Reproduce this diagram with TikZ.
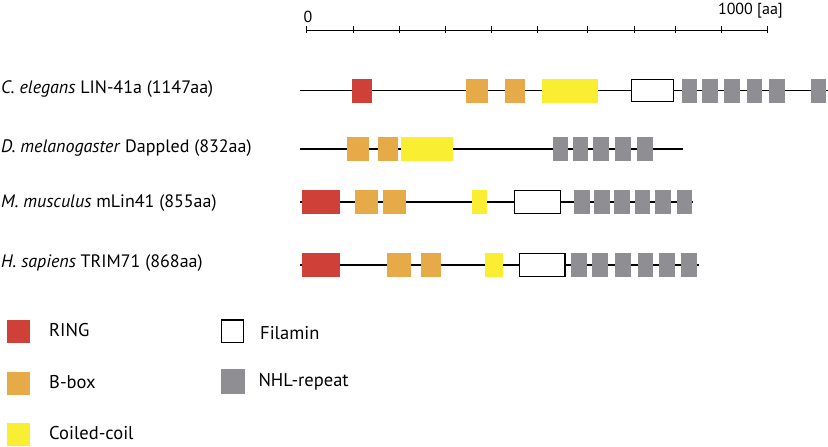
\documentclass[tikz,border=0pt]{standalone}
\usepackage{fontspec}
\setmainfont{PT Sans}
\definecolor{ringc}{RGB}{206,64,56}
\definecolor{bboxc}{RGB}{230,170,72}
\definecolor{ccoilc}{RGB}{250,238,50}
\definecolor{nhlc}{RGB}{143,142,147}
\begin{document}
\begin{tikzpicture}[x=1pt,y=-1pt,
  dom/.style={rectangle,inner sep=0pt,outer sep=0pt,minimum height=24pt,anchor=west},
  ring/.style={dom,fill=ringc},
  bbox/.style={dom,fill=bboxc},
  ccoil/.style={dom,fill=ccoilc},
  fil/.style={dom,draw=black,line width=1.4pt,fill=white,minimum height=22.5pt},
  nhl/.style={dom,fill=nhlc,minimum width=15.5pt},
  backbone/.style={line width=1.3pt,black},
  lab/.style={anchor=west,inner sep=0pt,font=\fontsize{18}{20}\selectfont},
  leg/.style={anchor=west,inner sep=0pt,font=\fontsize{18.5}{21}\selectfont},
  legsq/.style={rectangle,inner sep=0pt,outer sep=0pt,minimum width=23pt,minimum height=23pt},
  scalelab/.style={inner sep=0pt,font=\fontsize{16}{18}\selectfont},
  tick/.style={line width=1pt}]
\useasboundingbox (0,0) rectangle (828,447);
% scale bar
\coordinate (s0) at (306.7,30);
\coordinate (s1) at (767.3,30);
\draw[tick] (s0) -- (s1);
\foreach \x in {306.7,353.3,399.3,445,491,537,587.7,634,675.7,721.7,767.3}
  \draw[tick] (\x,26) -- (\x,33);
\node[scalelab] (zero) at (308,16.5) {0};
\node[scalelab,anchor=east] (thou) at (783,11) {1000 [aa]};
% labels
\node[lab] (l1) at (1,89.5) {\textit{C. elegans} LIN-41a (1147aa)};
\node[lab] (l2) at (1,148.5) {\textit{D. melanogaster} Dappled (832aa)};
\node[lab] (l3) at (1,203) {\textit{M. musculus} mLin41 (855aa)};
\node[lab] (l4) at (1,263.5) {\textit{H. sapiens} TRIM71 (868aa)};
% row 1
\coordinate (a0) at (299.6,90.5);
\coordinate (a1) at (828,90.5);
\draw[backbone] (a0) -- (a1);
\node[ring,minimum width=20pt] (a-r) at (352.4,90.5) {};
\node[bbox,minimum width=22.3pt] (a-b1) at (466,90.5) {};
\node[bbox,minimum width=20.6pt] (a-b2) at (504.8,90.5) {};
\node[ccoil,minimum width=56.6pt] (a-c) at (541.5,90.5) {};
\node[fil,minimum width=42pt] (a-f) at (631.4,90.5) {};
\foreach \x [count=\i] in {681.5,702,724.4,746.7,769,810.5}
  \node[nhl] (a-n\i) at (\x,90.5) {};
% row 2
\coordinate (b0) at (300,149);
\coordinate (b1) at (682.7,149);
\draw[backbone] (b0) -- (b1);
\node[bbox,minimum width=22pt] (b-b1) at (346.7,149) {};
\node[bbox,minimum width=20pt] (b-b2) at (378.3,149) {};
\node[ccoil,minimum width=52pt] (b-c) at (400.7,149) {};
\foreach \x [count=\i] in {552.7,572.7,593.3,615,637.3}
  \node[nhl] (b-n\i) at (\x,149) {};
% row 3
\coordinate (c0) at (300,202);
\coordinate (c1) at (693.3,202);
\draw[backbone] (c0) -- (c1);
\node[ring,minimum width=38.3pt] (c-r) at (301.7,202) {};
\node[bbox,minimum width=23pt] (c-b1) at (355.3,202) {};
\node[bbox,minimum width=23.6pt] (c-b2) at (382.7,202) {};
\node[ccoil,minimum width=15.6pt] (c-c) at (471.7,202) {};
\node[fil,minimum width=45.5pt] (c-f) at (514.7,202) {};
\foreach \x [count=\i] in {574,594,614.3,634.7,655.3,676.7}
  \node[nhl] (c-n\i) at (\x,202) {};
% row 4
\coordinate (d0) at (300,265);
\coordinate (d1) at (699.3,265);
\draw[backbone] (d0) -- (d1);
\node[ring,minimum width=38.3pt] (d-r) at (301.7,265) {};
\node[bbox,minimum width=24.3pt] (d-b1) at (386.7,265) {};
\node[bbox,minimum width=20pt] (d-b2) at (421,265) {};
\node[ccoil,minimum width=18pt] (d-c) at (485.3,265) {};
\node[fil,minimum width=45.6pt] (d-f) at (519.4,265) {};
\foreach \x [count=\i] in {571,592,615,637.7,659,681.3}
  \node[nhl] (d-n\i) at (\x,265) {};
% legend
\node[legsq,fill=ringc] (k-r) at (18.7,331.3) {};
\node[leg] (t-r) at (49,330) {RING};
\node[legsq,fill=bboxc] (k-b) at (18.7,383) {};
\node[leg] (t-b) at (49,381.7) {B-box};
\node[legsq,fill=ccoilc] (k-c) at (18.7,434.5) {};
\node[leg] (t-c) at (49,433) {Coiled-coil};
\node[legsq,draw=black,line width=1.3pt,fill=white,minimum width=22.5pt,minimum height=22.5pt] (k-f) at (232.5,331.3) {};
\node[leg] (t-f) at (260,333) {Filamin};
\node[legsq,fill=nhlc,minimum width=24pt,minimum height=24.5pt] (k-n) at (232.8,381.7) {};
\node[leg] (t-n) at (258.3,381.7) {NHL-repeat};
\end{tikzpicture}
\end{document}
